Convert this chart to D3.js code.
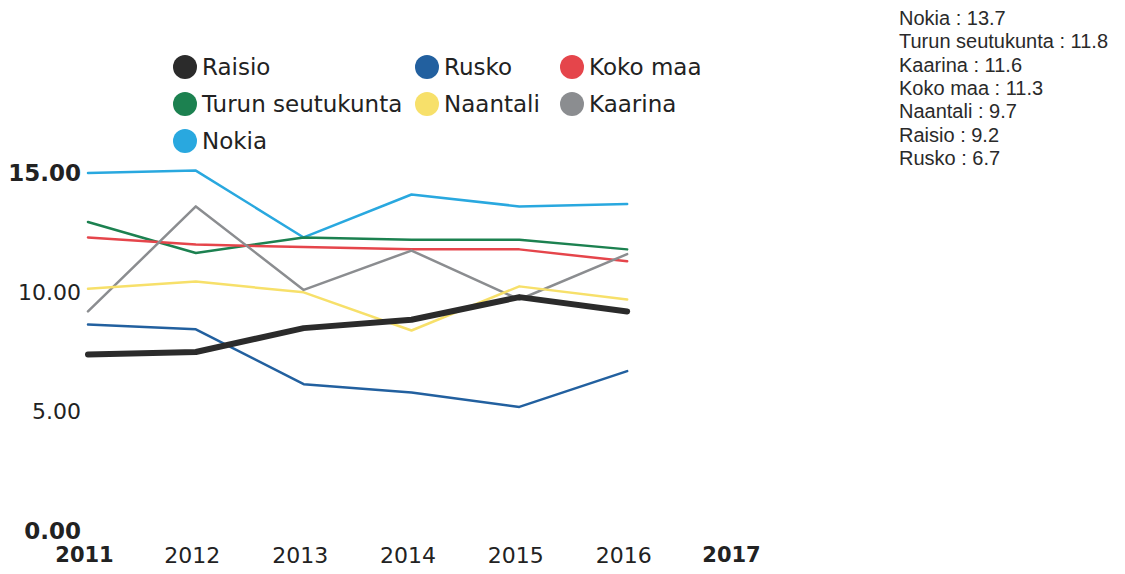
<!DOCTYPE html>
<html>
<head>
<meta charset="utf-8">
<script src="https://cdn.jsdelivr.net/npm/d3@7"></script>
<style>
  body { margin: 0; background: #fff; }
  svg { display: block; }
</style>
</head>
<body>
<div id="chart"></div>
<script>
// data
const years = [2011, 2012, 2013, 2014, 2015, 2016];
const axisYears = [2011, 2012, 2013, 2014, 2015, 2016, 2017];
const yTicks = [0, 5, 10, 15];

const raisio = [7.4, 7.5, 8.5, 8.85, 9.8, 9.2];
const rusko = [8.65, 8.45, 6.15, 5.8, 5.2, 6.7];
const kokoMaa = [12.3, 12.0, 11.9, 11.8, 11.8, 11.3];
const turun = [12.95, 11.65, 12.3, 12.2, 12.2, 11.8];
const naantali = [10.15, 10.45, 10.0, 8.4, 10.25, 9.7];
const kaarina = [9.2, 13.6, 10.1, 11.75, 9.7, 11.6];
const nokia = [15.0, 15.1, 12.3, 14.1, 13.6, 13.7];

const series = [
  {name: "Raisio", values: raisio, color: "#2b2b2b", width: 6},
  {name: "Rusko", values: rusko, color: "#22609f", width: 2.5},
  {name: "Koko maa", values: kokoMaa, color: "#e5454b", width: 2.5},
  {name: "Turun seutukunta", values: turun, color: "#1c8150", width: 2.5},
  {name: "Naantali", values: naantali, color: "#f7e06a", width: 2.5},
  {name: "Kaarina", values: kaarina, color: "#8b8d90", width: 2.5},
  {name: "Nokia", values: nokia, color: "#29a8df", width: 2.5}
];

// order of the list at the top right (value of the last year)
const sideList = ["Nokia", "Turun seutukunta", "Kaarina", "Koko maa", "Naantali", "Raisio", "Rusko"];

const width = 1125, height = 574;
const svg = d3.select('#chart').append('svg')
    .attr('width', width)
    .attr('height', height);

const x = d3.scaleLinear().domain([2011, 2017]).range([88, 735]);
const y = d3.scaleLinear().domain([0, 15]).range([531, 173]);

// y axis, labels only
const yAxis = svg.append('g')
    .attr('transform', 'translate(81,0)')
    .call(d3.axisLeft(y).tickValues(yTicks).tickFormat(d3.format(".2f")).tickSize(0).tickPadding(0));
yAxis.select('.domain').remove();
yAxis.selectAll('text')
    .attr('font-family', 'DejaVu Sans')
    .attr('font-size', d => (d === 0 || d === 15) ? 23 : 22)
    .attr('fill', '#222')
    .attr('font-weight', d => (d === 0 || d === 15) ? 'bold' : 'normal');

// x axis, labels only
const xAxis = svg.append('g')
    .attr('transform', 'translate(-4,547)')
    .call(d3.axisBottom(x).tickValues(axisYears).tickFormat(d3.format("d")).tickSize(0).tickPadding(0));
xAxis.select('.domain').remove();
xAxis.selectAll('text')
    .attr('font-family', 'DejaVu Sans')
    .attr('font-size', d => (d === 2011 || d === 2017) ? 21 : 22)
    .attr('fill', '#222')
    .attr('font-weight', d => (d === 2011 || d === 2017) ? 'bold' : 'normal');

// lines
const line = d3.line()
    .x((d, i) => x(years[i]))
    .y(d => y(d));

// draw thin lines first, Raisio on top
const drawOrder = ["Nokia", "Turun seutukunta", "Koko maa", "Kaarina", "Naantali", "Rusko", "Raisio"];
svg.append('g')
    .selectAll('path')
    .data(drawOrder.map(n => series.find(s => s.name === n)))
    .enter().append('path')
    .attr('d', d => line(d.values))
    .attr('fill', 'none')
    .attr('stroke', d => d.color)
    .attr('stroke-width', d => d.width)
    .attr('stroke-linejoin', 'round')
    .attr('stroke-linecap', 'round');

// legend
const legendX = [185, 427, 572];
const legendY = [67, 104, 141];
const legend = svg.append('g')
    .selectAll('g')
    .data(series)
    .enter().append('g')
    .attr('transform', (d, i) => `translate(${legendX[i % 3]},${legendY[Math.floor(i / 3)]})`);
legend.append('circle')
    .attr('r', 12)
    .attr('fill', d => d.color);
legend.append('text')
    .attr('x', 17)
    .attr('dy', '0.35em')
    .attr('font-family', 'DejaVu Sans')
    .attr('font-size', 23)
    .attr('fill', '#222')
    .text(d => d.name);

// values at the top right
svg.append('g')
    .selectAll('text')
    .data(sideList)
    .enter().append('text')
    .attr('x', 899)
    .attr('y', (d, i) => 25 + i * 23.3)
    .attr('font-family', 'Liberation Sans, Arial, sans-serif')
    .attr('font-size', 20)
    .attr('fill', '#2a2a2a')
    .text(d => {
        const s = series.find(s => s.name === d);
        return d + " : " + d3.format(".1f")(s.values[s.values.length - 1]);
    });
</script>
</body>
</html>
